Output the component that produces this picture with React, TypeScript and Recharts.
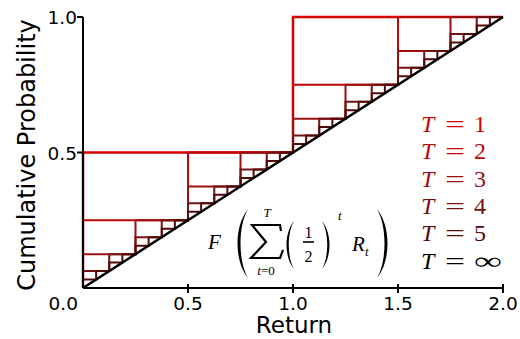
import { LineChart, Line, XAxis, YAxis } from 'recharts'

const xTicks = [0, 0.5, 1, 1.5, 2]
const xTickLabels = ['0.0', '0.5', '1.0', '1.5', '2.0']
const yTicks = [0.5, 1]
const yTickLabels = ['0.5', '1.0']

// x edges of the steps and the CDF level on each interval, per horizon T
const edgesT1 = [0, 1, 2]
const levelsT1 = [0.5, 1]

const edgesT2 = [0, 0.5, 1, 1.5, 2]
const levelsT2 = [0.25, 0.5, 0.75, 1]

const edgesT3 = [0, 0.25, 0.5, 0.75, 1, 1.25, 1.5, 1.75, 2]
const levelsT3 = [0.125, 0.25, 0.375, 0.5, 0.625, 0.75, 0.875, 1]

const edgesT4 = [0, 0.125, 0.25, 0.375, 0.5, 0.625, 0.75, 0.875, 1, 1.125, 1.25, 1.375, 1.5, 1.625, 1.75, 1.875, 2]
const levelsT4 = [0.0625, 0.125, 0.1875, 0.25, 0.3125, 0.375, 0.4375, 0.5, 0.5625, 0.625, 0.6875, 0.75, 0.8125, 0.875, 0.9375, 1]

const edgesT5 = [
  0, 0.0625, 0.125, 0.1875, 0.25, 0.3125, 0.375, 0.4375, 0.5, 0.5625, 0.625, 0.6875, 0.75, 0.8125, 0.875, 0.9375,
  1, 1.0625, 1.125, 1.1875, 1.25, 1.3125, 1.375, 1.4375, 1.5, 1.5625, 1.625, 1.6875, 1.75, 1.8125, 1.875, 1.9375, 2,
]
const levelsT5 = [
  0.03125, 0.0625, 0.09375, 0.125, 0.15625, 0.1875, 0.21875, 0.25, 0.28125, 0.3125, 0.34375, 0.375, 0.40625, 0.4375,
  0.46875, 0.5, 0.53125, 0.5625, 0.59375, 0.625, 0.65625, 0.6875, 0.71875, 0.75, 0.78125, 0.8125, 0.84375, 0.875,
  0.90625, 0.9375, 0.96875, 1,
]

// T = infinity: uniform CDF
const limitX = [0, 2]
const limitY = [0, 1]

const legendValues = ['1', '2', '3', '4', '5', '∞']
const colors = ['#d60000', '#bd0707', '#9c0e0e', '#771010', '#560909', '#000000']

const SANS = '"DejaVu Sans", sans-serif'
const SERIF = '"Liberation Serif", "DejaVu Serif", serif'

type Pt = { x: number; y: number }

function toSteps(edges: number[], levels: number[]): Pt[] {
  const pts: Pt[] = [{ x: edges[0], y: 0 }]
  levels.forEach((v, i) => pts.push({ x: edges[i], y: v }))
  pts.push({ x: edges[edges.length - 1], y: levels[levels.length - 1] })
  return pts
}

const stepSeries = [
  toSteps(edgesT1, levelsT1),
  toSteps(edgesT2, levelsT2),
  toSteps(edgesT3, levelsT3),
  toSteps(edgesT4, levelsT4),
  toSteps(edgesT5, levelsT5),
]
const limitSeries: Pt[] = limitX.map((x, i) => ({ x, y: limitY[i] }))

function XTick(props: any) {
  const { x, y, payload } = props
  const label = xTickLabels[xTicks.indexOf(payload.value)]
  if (payload.value === 0) {
    return (
      <text x={x - 5} y={y + 22} textAnchor="end" fontFamily={SANS} fontSize={18.5} fill="#000">
        {label}
      </text>
    )
  }
  return (
    <g>
      <line x1={x} x2={x} y1={y - 4} y2={y + 5} stroke="#000" strokeWidth={2} />
      <text x={x} y={y + 22} textAnchor="middle" fontFamily={SANS} fontSize={18.5} fill="#000">
        {label}
      </text>
    </g>
  )
}

function YTick(props: any) {
  const { x, y, payload } = props
  const label = yTickLabels[yTicks.indexOf(payload.value)]
  return (
    <g>
      <line x1={x - 6} x2={x} y1={y} y2={y} stroke="#000" strokeWidth={2} />
      <text x={x - 6} y={y + 7} textAnchor="end" fontFamily={SANS} fontSize={18.5} fill="#000">
        {label}
      </text>
    </g>
  )
}

function Overlay() {
  return (
    <svg width={520} height={339} style={{ position: 'absolute', left: 0, top: 0, pointerEvents: 'none' }}>
      <text
        x={35}
        y={155}
        transform="rotate(-90 35 155)"
        textAnchor="middle"
        fontFamily={SANS}
        fontSize={24}
        fill="#000"
      >
        Cumulative Probability
      </text>
      <text x={294} y={333} textAnchor="middle" fontFamily={SANS} fontSize={23} fill="#000">
        Return
      </text>

      {legendValues.map((v, i) => {
        const by = 132 + i * 27.3
        return (
          <g key={v} fill={colors[i]} fontFamily={SERIF} fontSize={24}>
            <text x={421} y={by} fontStyle="italic">T</text>
            <text x={445} y={by} textLength={20} lengthAdjust="spacingAndGlyphs">=</text>
            {v === '∞' ? (
              <text x={474} y={by} textLength={28} lengthAdjust="spacingAndGlyphs">{v}</text>
            ) : (
              <text x={474} y={by}>{v}</text>
            )}
          </g>
        )
      })}

      {/* F( sum_{t=0}^T (1/2)^t R_t ) */}
      <g fill="#000" fontFamily={SERIF}>
        <text x={208} y={249} fontSize={21} fontStyle="italic">F</text>
        <path d="M248,209 C234,226 234,261 248,278 C238,261 238,226 248,209 Z" />
        <path d="M281,231 L280,225 L252,225 L266,242 L251,258 L280,258 L283,250" fill="none" stroke="#000" strokeWidth={2.2} />
        <text x={267} y={217} fontSize={13} fontStyle="italic" textAnchor="middle">T</text>
        <text x={266} y={275} fontSize={13} textAnchor="middle">
          <tspan fontStyle="italic">t</tspan>=0
        </text>
        <path d="M294,221 C284,233 284,257 294,269 C287,257 287,233 294,221 Z" />
        <text x={308.5} y={238} fontSize={16} textAnchor="middle">1</text>
        <line x1={303} x2={314} y1={242} y2={242} stroke="#000" strokeWidth={1.6} />
        <text x={308.5} y={262} fontSize={16} textAnchor="middle">2</text>
        <path d="M322,221 C332,233 332,257 322,269 C329,257 329,233 322,221 Z" />
        <text x={338} y={220} fontSize={13} fontStyle="italic">t</text>
        <text x={352} y={251} fontSize={21} fontStyle="italic">R</text>
        <text x={365} y={256} fontSize={13} fontStyle="italic">t</text>
        <path d="M377,209 C391,226 391,261 377,278 C387,261 387,226 377,209 Z" />
      </g>
    </svg>
  )
}

export default function App() {
  return (
    <div style={{ position: 'absolute', left: 0, top: 0, width: 520, height: 339, background: '#fff' }}>
      <LineChart width={520} height={339} margin={{ top: 17, right: 17, bottom: 0, left: 0 }}>
        <XAxis
          type="number"
          dataKey="x"
          domain={[0, 2]}
          ticks={xTicks}
          height={51}
          tick={<XTick />}
          tickLine={false}
          tickSize={0}
          tickMargin={0}
          interval={0}
          axisLine={{ stroke: '#000', strokeWidth: 2 }}
        />
        <YAxis
          type="number"
          dataKey="y"
          domain={[0, 1]}
          ticks={yTicks}
          width={83}
          tick={<YTick />}
          tickLine={false}
          tickSize={0}
          tickMargin={0}
          interval={0}
          axisLine={{ stroke: '#000', strokeWidth: 2 }}
        />
        {stepSeries.map((pts, i) => (
          <Line
            key={i}
            data={pts}
            dataKey="y"
            type="stepAfter"
            stroke={colors[i]}
            strokeWidth={i === 0 ? 2.5 : 2}
            dot={false}
            activeDot={false}
            isAnimationActive={false}
          />
        ))}
        <Line
          data={limitSeries}
          dataKey="y"
          type="linear"
          stroke="#000"
          strokeWidth={2.5}
          dot={false}
          activeDot={false}
          isAnimationActive={false}
        />
      </LineChart>
      <Overlay />
    </div>
  )
}
